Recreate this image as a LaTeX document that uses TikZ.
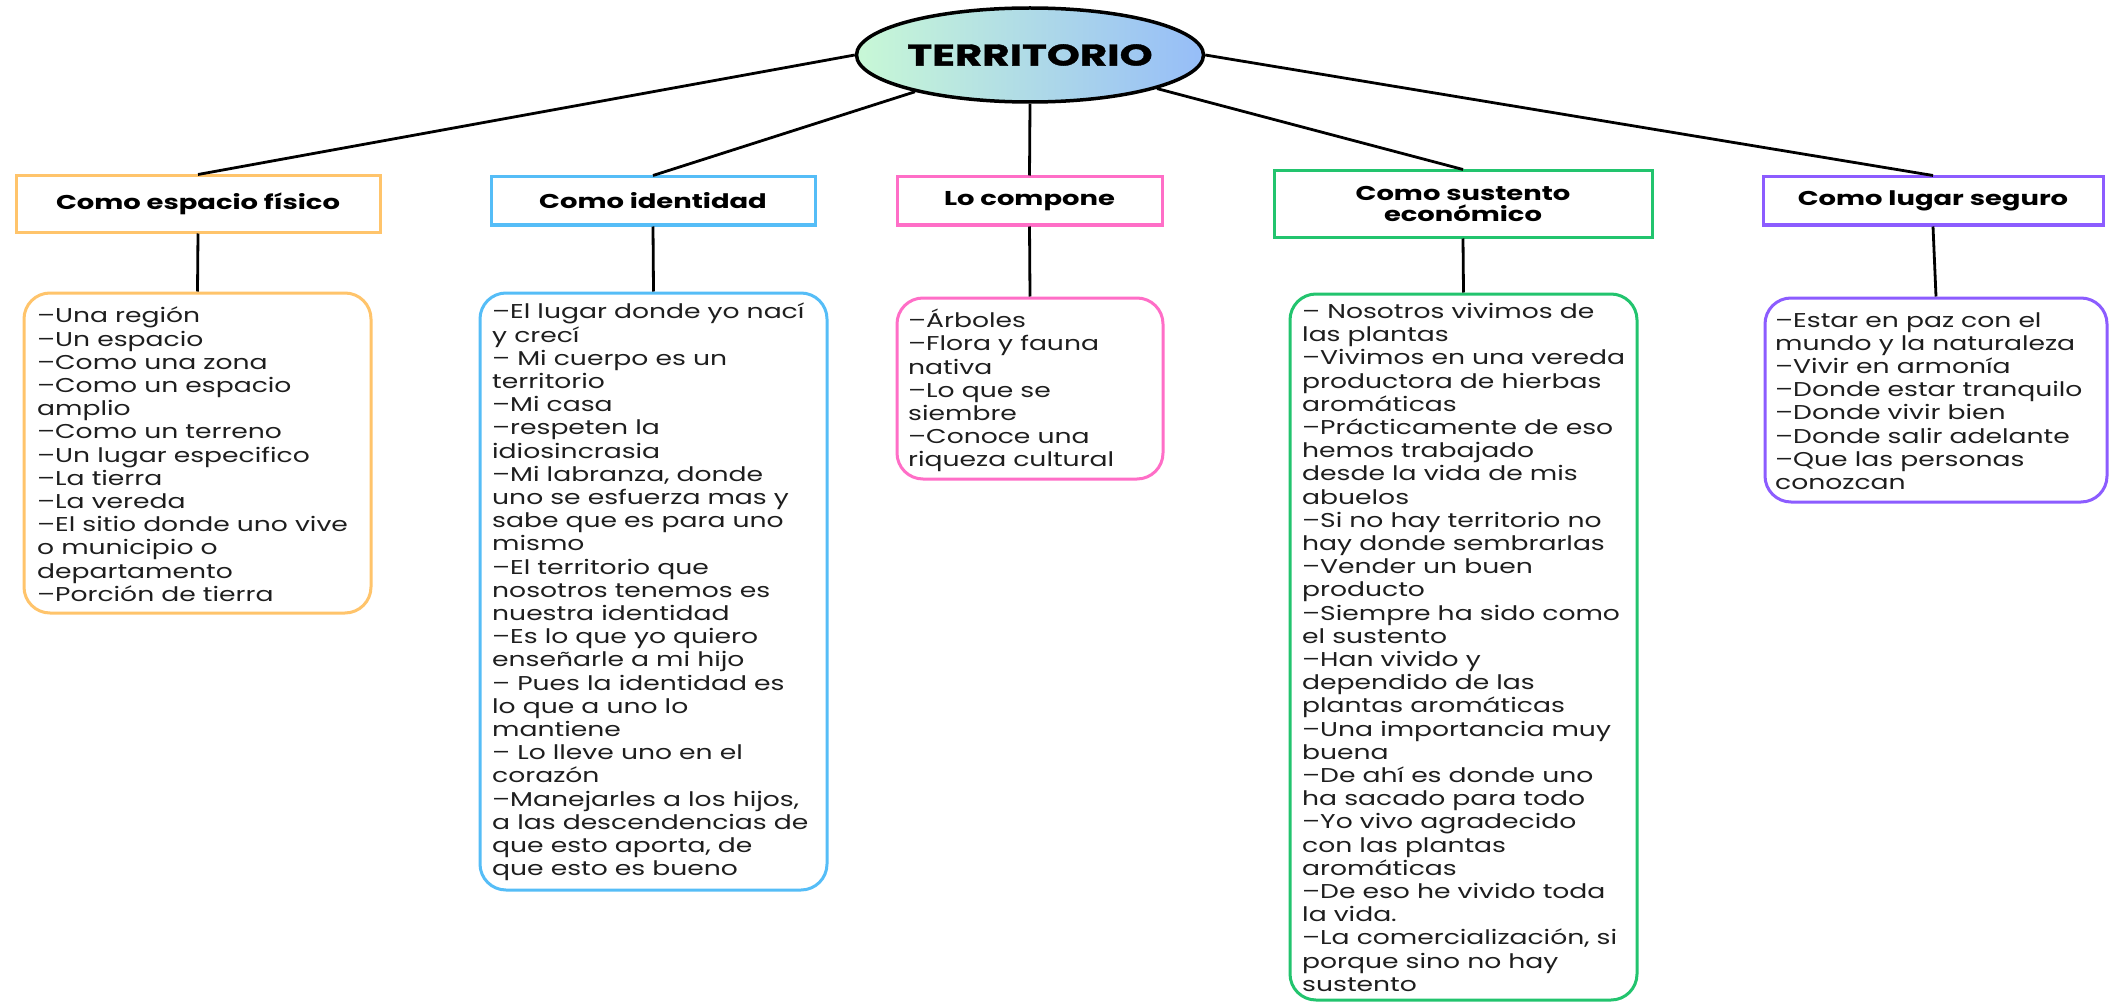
\documentclass[tikz,border=0pt]{standalone}
\usepackage{fontspec}
\setmainfont{Poppins}[FakeStretch=1.33]
\newfontfamily\hdrfont{Poppins}[FakeStretch=1.37]
\newfontfamily\titlefont{Poppins}[FakeStretch=1.4, BoldFeatures={FakeBold=1.2}]
\usetikzlibrary{shapes.geometric}
\definecolor{corange}{HTML}{FFC46B}
\definecolor{cblue}{HTML}{55BDF7}
\definecolor{cpink}{HTML}{FF6EC7}
\definecolor{cgreen}{HTML}{22C46E}
\definecolor{cpurple}{HTML}{8C5CFF}
\definecolor{ellL}{HTML}{C8F8D6}
\definecolor{ellR}{HTML}{96BDF8}
\definecolor{txt}{HTML}{1E1E1E}
\begin{document}
\begin{tikzpicture}[x=1pt,y=-1pt,
  hdr/.style={draw, line width=3pt, fill=white, align=center, inner sep=0pt,
    font=\hdrfont\bfseries\fontsize{20}{21.5}\selectfont, text=black},
  bodybox/.style={draw, line width=3pt, rounded corners=26pt, fill=white, inner sep=0pt},
  bodytext/.style={anchor=north west, align=left, inner sep=0pt,
    font=\fontsize{20}{23.2}\selectfont, text=txt},
  conn/.style={line width=2.8pt, black}]
\useasboundingbox (0,0) rectangle (2109,1003);
\fill[white] (0,0) rectangle (2109,1003);

% title
\node[ellipse, draw, line width=3.5pt, minimum width=346pt, minimum height=94pt,
  left color=ellL, right color=ellR, inner sep=0pt,
  font=\titlefont\bfseries\fontsize{30}{30}\selectfont] (ell) at (1030,55) {TERRITORIO};

% headers
\node[hdr, draw=corange, minimum width=364pt, minimum height=56pt] (h1) at (198,204) {Como espacio físico};
\node[hdr, draw=cblue, minimum width=324pt, minimum height=48pt] (h2) at (653,201) {Como identidad};
\node[hdr, draw=cpink, minimum width=265pt, minimum height=48pt] (h3) at (1029.5,201) {\raisebox{-2pt}{Lo compone}};
\node[hdr, draw=cgreen, minimum width=378pt, minimum height=66pt] (h4) at (1463,204) {Como sustento\\económico};
\node[hdr, draw=cpurple, minimum width=340pt, minimum height=48pt] (h5) at (1933,201) {Como lugar seguro};

% body boxes
\node[bodybox, draw=corange, minimum width=347pt, minimum height=320pt] (b1) at (197.5,453) {};
\node[bodybox, draw=cblue, minimum width=347pt, minimum height=597pt] (b2) at (653.5,591.5) {};
\node[bodybox, draw=cpink, minimum width=266pt, minimum height=181pt] (b3) at (1030,388.5) {};
\node[bodybox, draw=cgreen, minimum width=347pt, minimum height=706pt] (b4) at (1463.5,647) {};
\node[bodybox, draw=cpurple, minimum width=342pt, minimum height=204pt] (b5) at (1936,400) {};

% body texts
\node[bodytext] (t1) at (37,307) {%
–Una región\\
–Un espacio\\
–Como una zona\\
–Como un espacio\\
amplio\\
–Como un terreno\\
–Un lugar especifico\\
–La tierra\\
–La vereda\\
–El sitio donde uno vive\\
o municipio o\\
departamento\\
–Porción de tierra};

\node[bodytext] (t2) at (492,303) {%
–El lugar donde yo nací\\
y crecí\\
– Mi cuerpo es un\\
territorio\\
–Mi casa\\
–respeten la\\
idiosincrasia\\
–Mi labranza, donde\\
uno se esfuerza mas y\\
sabe que es para uno\\
mismo\\
–El territorio que\\
nosotros tenemos es\\
nuestra identidad\\
–Es lo que yo quiero\\
enseñarle a mi hijo\\
– Pues la identidad es\\
lo que a uno lo\\
mantiene\\
– Lo lleve uno en el\\
corazón\\
–Manejarles a los hijos,\\
a las descendencias de\\
que esto aporta, de\\
que esto es bueno};

\node[bodytext] (t3) at (908,309) {%
–Árboles\\
–Flora y fauna\\
nativa\\
–Lo que se\\
siembre\\
–Conoce una\\
riqueza cultural};

\node[bodytext] (t4) at (1302,303) {%
– Nosotros vivimos de\\
las plantas\\
–Vivimos en una vereda\\
productora de hierbas\\
aromáticas\\
–Prácticamente de eso\\
hemos trabajado\\
desde la vida de mis\\
abuelos\\
–Si no hay territorio no\\
hay donde sembrarlas\\
–Vender un buen\\
producto\\
–Siempre ha sido como\\
el sustento\\
–Han vivido y\\
dependido de las\\
plantas aromáticas\\
–Una importancia muy\\
buena\\
–De ahí es donde uno\\
ha sacado para todo\\
–Yo vivo agradecido\\
con las plantas\\
aromáticas\\
–De eso he vivido toda\\
la vida.\\
–La comercialización, si\\
porque sino no hay\\
sustento};

\node[bodytext] (t5) at (1775,312) {%
–Estar en paz con el\\
mundo y la naturaleza\\
–Vivir en armonía\\
–Donde estar tranquilo\\
–Donde vivir bien\\
–Donde salir adelante\\
–Que las personas\\
conozcan};

% connectors
\draw[conn] (ell.west) -- (h1.north);
\draw[conn] (ell) -- (h2.north);
\draw[conn] (ell.south) -- (h3.north);
\draw[conn] (ell) -- (h4.north);
\draw[conn] (ell.east) -- (h5.north);
\draw[conn] (h1.south) -- (b1.north);
\draw[conn] (h2.south) -- (b2.north);
\draw[conn] (h3.south) -- (b3.north);
\draw[conn] (h4.south) -- (b4.north);
\draw[conn] (h5.south) -- (b5.north);
\end{tikzpicture}
\end{document}
